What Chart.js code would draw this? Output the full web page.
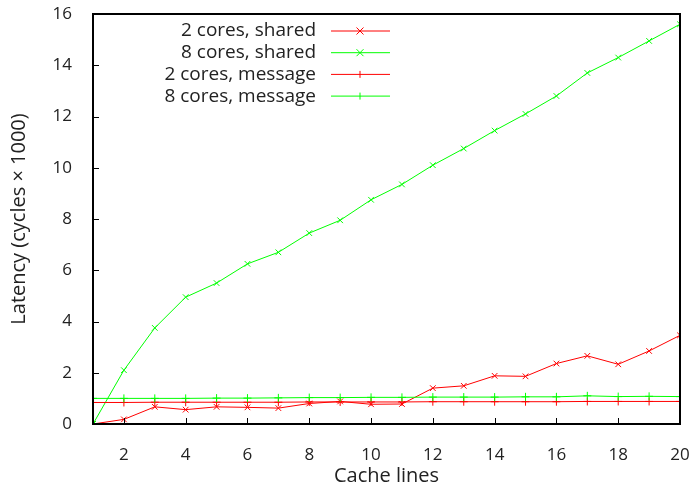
<!DOCTYPE html>
<html>
<head>
<meta charset="utf-8">
<script src="https://cdn.jsdelivr.net/npm/chart.js@4"></script>
<style>
  html, body { margin: 0; padding: 0; background: #fff; }
  #wrap { width: 691px; height: 488px; }
</style>
</head>
<body>
<div id="wrap"><canvas id="myChart" width="691" height="488"></canvas></div>
<script>
// values (latency in thousands of cycles)
var cacheLines = [1, 2, 3, 4, 5, 6, 7, 8, 9, 10, 11, 12, 13, 14, 15, 16, 17, 18, 19, 20];
var twoShared = [0, 0.18, 0.67, 0.56, 0.67, 0.65, 0.62, 0.8, 0.88, 0.77, 0.78, 1.4, 1.49, 1.88, 1.86, 2.36, 2.66, 2.33, 2.85, 3.46];
var eightShared = [0, 2.1, 3.75, 4.95, 5.5, 6.25, 6.7, 7.45, 7.95, 8.75, 9.35, 10.1, 10.75, 11.45, 12.1, 12.8, 13.7, 14.3, 14.95, 15.6];
var twoMessage = [0.84, 0.84, 0.85, 0.85, 0.85, 0.85, 0.85, 0.86, 0.86, 0.86, 0.86, 0.87, 0.87, 0.87, 0.87, 0.87, 0.88, 0.88, 0.88, 0.88];
var eightMessage = [1.0, 1.0, 1.0, 1.0, 1.01, 1.01, 1.02, 1.03, 1.03, 1.04, 1.04, 1.05, 1.05, 1.05, 1.06, 1.06, 1.1, 1.07, 1.08, 1.07];
var seriesLabels = ['2 cores, shared', '8 cores, shared', '2 cores, message', '8 cores, message'];
var xTicks = [2, 4, 6, 8, 10, 12, 14, 16, 18, 20];
var yTicks = [0, 2, 4, 6, 8, 10, 12, 14, 16];

var RED = '#ff0000';
var GREEN = '#00ff00';
var FONT = '"Open Sans", "DejaVu Sans", sans-serif';

function toPoints(values) {
    return values.map(function (v, i) { return { x: cacheLines[i], y: v }; });
}

function makeSet(label, values, color, marker, order) {
    return {
        label: label,
        data: toPoints(values),
        borderColor: color,
        backgroundColor: color,
        borderWidth: 1,
        pointStyle: marker,
        pointRadius: 4,
        pointBorderWidth: 1,
        pointHoverRadius: 4,
        tension: 0,
        order: order
    };
}

// gnuplot-like frame: box border, inward ticks, right-aligned legend
var framePlugin = {
    id: 'frame',
    afterDraw: function (chart) {
        var ctx = chart.ctx;
        var a = chart.chartArea;
        var xs = chart.scales.x, ys = chart.scales.y;
        ctx.save();
        ctx.strokeStyle = '#000';
        ctx.lineWidth = 1;
        ctx.beginPath();
        xs.ticks.forEach(function (t) {
            var px = Math.round(xs.getPixelForValue(t.value)) + 0.5;
            ctx.moveTo(px, a.bottom);
            ctx.lineTo(px, a.bottom - 6);
        });
        ys.ticks.forEach(function (t) {
            var py = Math.round(ys.getPixelForValue(t.value)) + 0.5;
            ctx.moveTo(a.left, py);
            ctx.lineTo(a.left + 6, py);
        });
        ctx.stroke();
        ctx.lineWidth = 2;
        ctx.strokeRect(a.left, a.top, a.right - a.left, a.bottom - a.top);

        // legend
        ctx.font = '19px ' + FONT;
        ctx.textAlign = 'right';
        ctx.textBaseline = 'middle';
        chart.data.datasets.forEach(function (ds, i) {
            var y = 31 + i * 21.7;
            ctx.fillStyle = '#222';
            ctx.fillText(ds.label, 316, y);
            ctx.strokeStyle = ds.borderColor;
            ctx.lineWidth = 1;
            ctx.beginPath();
            ctx.moveTo(331, y);
            ctx.lineTo(390, y);
            var cx = 360, r = 3.5;
            if (ds.pointStyle === 'crossRot') {
                ctx.moveTo(cx - r, y - r); ctx.lineTo(cx + r, y + r);
                ctx.moveTo(cx - r, y + r); ctx.lineTo(cx + r, y - r);
            } else {
                ctx.moveTo(cx, y - r); ctx.lineTo(cx, y + r);
            }
            ctx.stroke();
        });
        ctx.restore();
    }
};

var chartContext = document.getElementById('myChart').getContext('2d');
new Chart(chartContext, {
    type: 'line',
    data: {
        datasets: [
            makeSet(seriesLabels[0], twoShared, RED, 'crossRot', 4),
            makeSet(seriesLabels[1], eightShared, GREEN, 'crossRot', 3),
            makeSet(seriesLabels[2], twoMessage, RED, 'cross', 2),
            makeSet(seriesLabels[3], eightMessage, GREEN, 'cross', 1)
        ]
    },
    options: {
        responsive: false,
        animation: false,
        layout: { padding: { top: 14, right: 11, left: 0, bottom: 0 } },
        scales: {
            x: {
                type: 'linear',
                min: 1,
                max: 20,
                afterBuildTicks: function (scale) {
                    scale.ticks = xTicks.map(function (v) { return { value: v }; });
                },
                afterFit: function (scale) {
                    scale.height = 64;
                    scale.paddingLeft = 0;
                    scale.paddingRight = 0;
                },
                grid: { display: false },
                border: { display: false },
                ticks: {
                    color: '#222',
                    padding: 13,
                    font: { family: FONT, size: 17 }
                },
                title: {
                    display: true,
                    text: 'Cache lines',
                    color: '#222',
                    padding: { top: 0, bottom: 0 },
                    font: { family: FONT, size: 20 }
                }
            },
            y: {
                min: 0,
                max: 16,
                afterBuildTicks: function (scale) {
                    scale.ticks = yTicks.map(function (v) { return { value: v }; });
                },
                afterFit: function (scale) {
                    scale.width = 93;
                    scale.paddingTop = 0;
                    scale.paddingBottom = 0;
                },
                grid: { display: false },
                border: { display: false },
                ticks: {
                    color: '#222',
                    padding: 13,
                    font: { family: FONT, size: 17 }
                },
                title: {
                    display: true,
                    text: 'Latency (cycles \u00d7 1000)',
                    color: '#222',
                    padding: { top: 7, bottom: 4 },
                    font: { family: FONT, size: 20 }
                }
            }
        },
        plugins: {
            legend: { display: false },
            tooltip: { enabled: false }
        }
    },
    plugins: [framePlugin]
});
</script>
</body>
</html>
